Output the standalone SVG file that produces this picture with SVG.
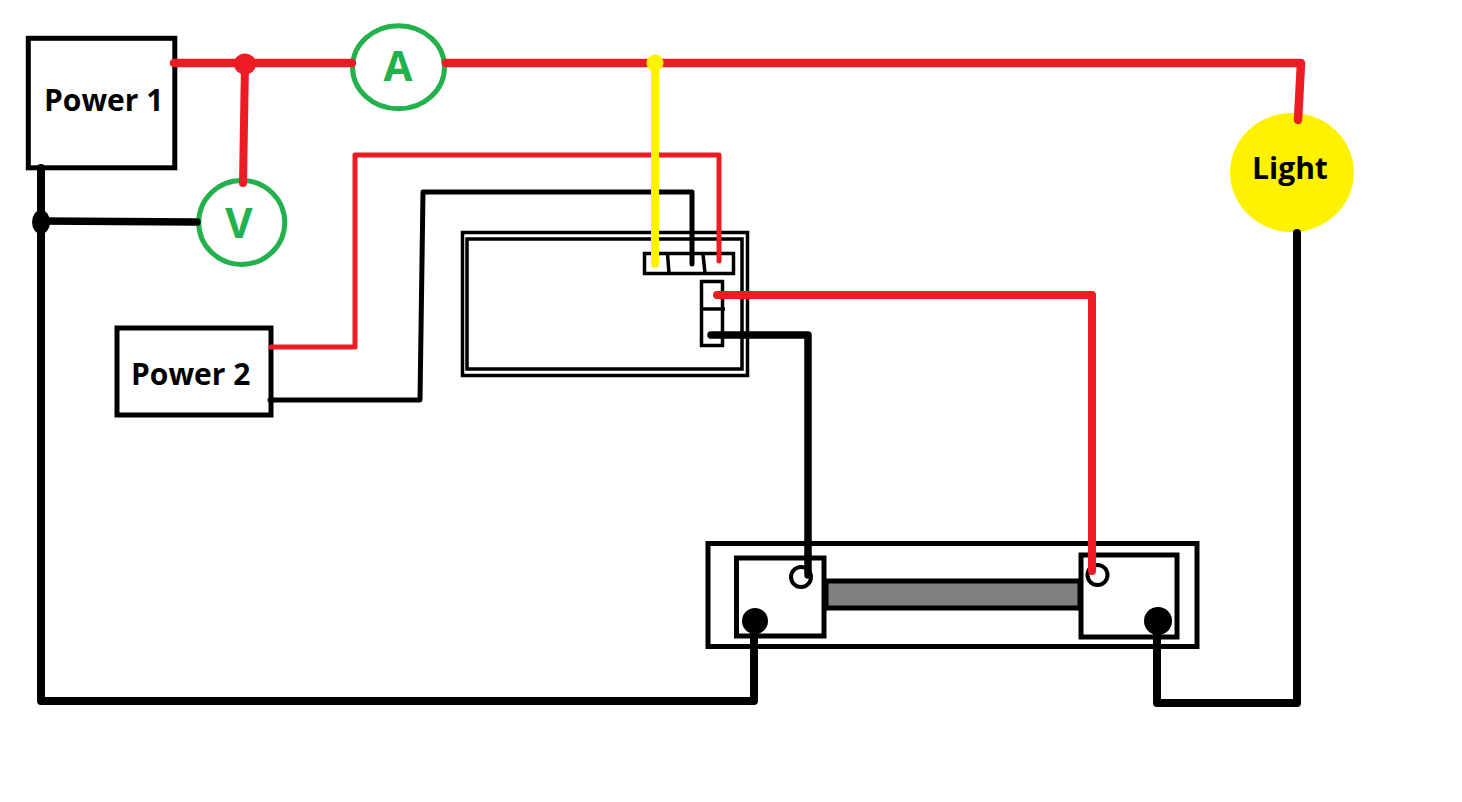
<svg xmlns="http://www.w3.org/2000/svg" width="1462" height="802" viewBox="0 0 1462 802">
<style>
.box{fill:#fff;stroke:#000;stroke-width:5}
.thin{fill:none;stroke:#000;stroke-width:3.5}
.meter{fill:#fff;stroke:#22b14c;stroke-width:5}
.lab{font-family:"Open Sans","Noto Sans",sans-serif;font-weight:700;font-size:30px;fill:#000}
.mlab{font-family:"Open Sans","Noto Sans",sans-serif;font-weight:700;font-size:42px;fill:#22b14c;text-anchor:middle}
.w{fill:none;stroke-linecap:round;stroke-linejoin:round}
.r{stroke:#ed1c24}.k{stroke:#000}.y{stroke:#fff200}
</style>
<rect width="1462" height="802" fill="#fff"/>
<g id="power1"><rect class="box" x="28.3" y="38.3" width="146.500" height="129.500"/><text class="lab" x="44" y="111">Power 1</text></g>
<g id="power2"><rect class="box" x="117" y="328" width="154" height="87"/><text class="lab" x="131" y="385">Power 2</text></g>
<g id="ammeter"><ellipse class="meter" cx="398.500" cy="67.3" rx="46" ry="41.500"/><text class="mlab" x="398" y="81">A</text></g>
<g id="voltmeter"><ellipse class="meter" cx="241.700" cy="222.400" rx="43" ry="42"/><text class="mlab" x="239" y="238">V</text></g>
<g id="light"><ellipse cx="1292" cy="172.500" rx="62" ry="59.500" fill="#fff200"/><text class="lab" x="1290" y="179" text-anchor="middle">Light</text></g>
<g id="display">
<rect class="thin" x="462.500" y="232.500" width="285" height="143"/>
<rect class="thin" x="467" y="239" width="275" height="130"/>
<rect class="thin" x="644.500" y="253.500" width="89" height="20"/>
<path class="thin" d="M667.500 254L669 273M703 254L705 273"/>
<rect class="thin" x="701.500" y="281.500" width="21" height="64"/>
<path class="thin" d="M701 309H725"/>
</g>
<g id="shunt">
<rect class="box" x="708" y="543.500" width="489" height="103"/>
<rect x="826" y="581" width="254" height="27" fill="#7f7f7f" stroke="#000" stroke-width="5"/>
<rect class="box" x="736.500" y="558" width="87.500" height="78"/>
<rect class="box" x="1081" y="555" width="96" height="82"/>
<circle cx="801" cy="577" r="10" fill="#fff" stroke="#000" stroke-width="4"/>
<circle cx="1097.500" cy="575" r="10" fill="#fff" stroke="#000" stroke-width="4"/>
<circle cx="755" cy="621" r="13" fill="#000"/>
<circle cx="1158" cy="621" r="14" fill="#000"/>
</g>
<g id="connectors">
<path class="w k" stroke-width="8" d="M41 168V701H754V622"/>
<path class="w k" stroke-width="7.500" d="M41 221L197 222"/>
<ellipse cx="41" cy="222" rx="9" ry="12" fill="#000"/>
<path class="w k" stroke-width="8" d="M1297 233V703H1157V622"/>
<path class="w k" stroke-width="5" d="M270 400H420L423 192H692V264"/>
<path class="w r" stroke-width="5" d="M271 347H355V155H719V261"/>
<path class="w k" stroke-width="7.500" d="M711 335H808V575"/>
<path class="w r" stroke-width="8" d="M717 295H1092V571"/>
<path class="w r" stroke-width="8.500" d="M174 63H352M446 63H1301L1298 120"/>
<path class="w r" stroke-width="8" d="M245 64L243 183"/>
<ellipse cx="245" cy="64" rx="11" ry="10.500" fill="#ed1c24"/>
<path class="w y" stroke-width="8" d="M655 63V264"/>
<circle cx="655" cy="63" r="8.500" fill="#fff200"/>
</g>
</svg>
